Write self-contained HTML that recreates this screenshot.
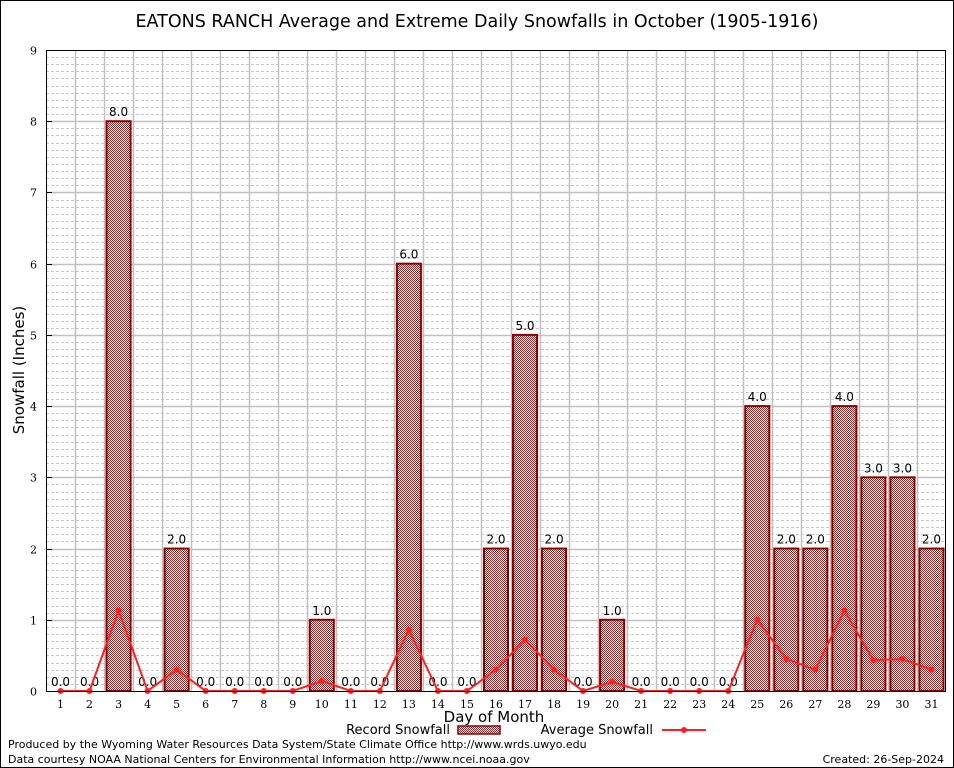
<!DOCTYPE html>
<html><head><meta charset="utf-8"><style>
body{margin:0;background:#fff}
svg{display:block}
</style></head><body>
<svg id="chart" width="954" height="768" viewBox="0 0 954 768" xmlns="http://www.w3.org/2000/svg">
<defs>
<pattern id="hatch" width="2" height="2" patternUnits="userSpaceOnUse">
<rect width="2" height="2" fill="#fff"/>
<rect width="1" height="1" fill="#b01818"/>
<rect x="1" y="1" width="1" height="1" fill="#b01818"/>
</pattern>
</defs>
<rect x="0.5" y="0.5" width="953" height="767" fill="#fff" stroke="#000"/>
<text x="477" y="27" text-anchor="middle" font-family="DejaVu Sans, sans-serif" font-size="17.5">EATONS RANCH Average and Extreme Daily Snowfalls in October (1905-1916)</text>
<g id="grid"></g>
<g id="bars"></g>
<g id="line"></g>
<g id="axes"></g>
<text x="24" y="370" transform="rotate(-90 24 370)" text-anchor="middle" font-family="DejaVu Sans, sans-serif" font-size="15">Snowfall (Inches)</text>
<text x="494" y="722" text-anchor="middle" font-family="DejaVu Sans, sans-serif" font-size="15">Day of Month</text>
<g font-family="DejaVu Sans, sans-serif" font-size="13">
<text x="450" y="734" text-anchor="end">Record Snowfall</text>
<rect x="458" y="726" width="42" height="8" fill="url(#hatch)" stroke="#8b0000" stroke-width="1.5"/>
<text x="653" y="734" text-anchor="end">Average Snowfall</text>
<line x1="662" y1="730" x2="706" y2="730" stroke="#ff2020" stroke-width="2"/>
<circle cx="684" cy="730" r="3" fill="#ff2020"/>
</g>
<text x="8" y="748" font-family="DejaVu Sans, sans-serif" font-size="11">Produced by the Wyoming Water Resources Data System/State Climate Office http://www.wrds.uwyo.edu</text>
<text x="8" y="763" font-family="DejaVu Sans, sans-serif" font-size="11">Data courtesy NOAA National Centers for Environmental Information http://www.ncei.noaa.gov</text>
<text x="944" y="763" text-anchor="end" font-family="DejaVu Sans, sans-serif" font-size="11">Created:  26-Sep-2024</text>
</svg>
<script>
const days=[1,2,3,4,5,6,7,8,9,10,11,12,13,14,15,16,17,18,19,20,21,22,23,24,25,26,27,28,29,30,31];
const recordSnow=[0,0,8,0,2,0,0,0,0,1,0,0,6,0,0,2,5,2,0,1,0,0,0,0,4,2,2,4,3,3,2];
const avgSnow=[0,0,1.13,0,0.3,0,0,0,0,0.14,0,0,0.86,0,0,0.3,0.72,0.3,0,0.13,0,0,0,0,1.0,0.45,0.3,1.13,0.43,0.45,0.3];
const yTicks=[0,1,2,3,4,5,6,7,8,9];
const NS='http://www.w3.org/2000/svg';
const L=46,R=946,T=50,B=691,yMax=9;
const step=(R-L)/days.length;
const x=d=>L+(d-0.5)*step;
const y=v=>B-(v/yMax)*(B-T);
function mk(tag,attrs,parent){const e=document.createElementNS(NS,tag);for(const k in attrs)e.setAttribute(k,attrs[k]);parent.appendChild(e);return e;}
const grid=document.getElementById('grid'),bars=document.getElementById('bars'),line=document.getElementById('line'),axes=document.getElementById('axes');
mk('rect',{x:L,y:T,width:R-L,height:B-T,fill:'#fff'},grid);
for(let i=0;i<yMax*10;i++){if(i%10===0)continue;const yy=Math.round(y(i/10))+0.5;
const g=mk('line',{x1:L,x2:R,y1:yy,y2:yy,stroke:'#c8c8c8','stroke-dasharray':'3,2','stroke-width':1},grid);

}
for(let i=1;i<days.length;i++){const xx=Math.round(L+i*step)+0.5;
const g=mk('line',{x1:xx,x2:xx,y1:T,y2:B,stroke:'#c0c0c0','stroke-width':1.5},grid);

}
yTicks.forEach(t=>{const yy=Math.round(y(t))+0.5;
if(t>0&&t<yMax){const g=mk('line',{x1:L,x2:R,y1:yy,y2:yy,stroke:'#c0c0c0','stroke-width':1.5},grid);

}
const tk=mk('line',{x1:L,x2:L+6,y1:yy,y2:yy,stroke:'#000'},axes);


const lb=mk('text',{x:L-9,y:yy+4,'text-anchor':'end','font-family':'DejaVu Serif, serif','font-size':11},axes);
lb.textContent=t;

});
days.forEach((d,i)=>{const v=recordSnow[i];const w=24;
if(v>0){const b=mk('rect',{x:x(d)-w/2,y:y(v),width:w,height:B-y(v),fill:'url(#hatch)',stroke:'#8b0000','stroke-width':2},bars);

}
const vl=mk('text',{x:x(d),y:y(v)-5,'text-anchor':'middle','font-family':'DejaVu Sans, sans-serif','font-size':12},bars);
vl.textContent=v.toFixed(1);


const xl=mk('text',{x:x(d),y:B+17,'text-anchor':'middle','font-family':'DejaVu Serif, serif','font-size':11},axes);
xl.textContent=d;

});
const pl=mk('polyline',{points:days.map((d,i)=>x(d)+','+y(avgSnow[i])).join(' '),fill:'none',stroke:'#ff2020','stroke-width':2},line);


days.forEach((d,i)=>{const c=mk('circle',{cx:x(d),cy:y(avgSnow[i]),r:3,fill:'#ff2020'},line);

});
const fr=mk('rect',{x:L+0.5,y:T+0.5,width:R-L-1,height:B-T,fill:'none',stroke:'#000','stroke-width':1},axes);


</script>
</body></html>
